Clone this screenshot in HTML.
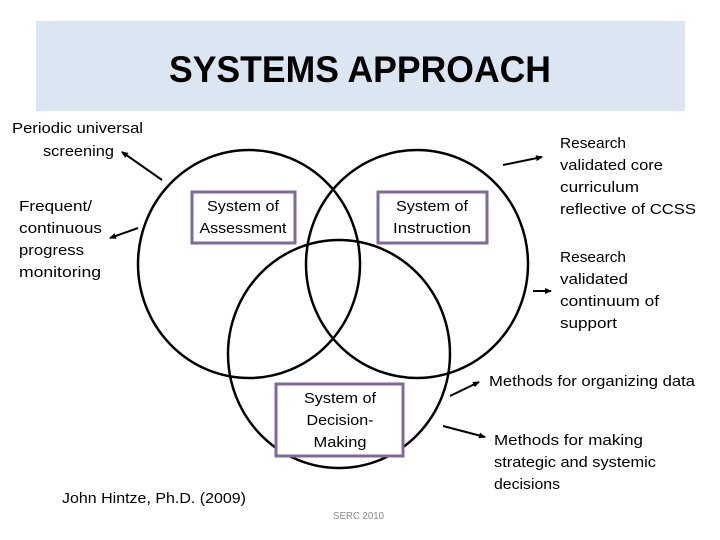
<!DOCTYPE html>
<html><head><meta charset="utf-8"><style>
html,body{margin:0;padding:0;background:#fff;}
svg{display:block;}
text{font-family:"Liberation Sans",sans-serif;font-size:15px;fill:#000;}
</style></head><body>
<svg width="720" height="540" viewBox="0 0 720 540" xmlns="http://www.w3.org/2000/svg">
<defs>
<marker id="ah" markerWidth="8" markerHeight="8" refX="6" refY="4" orient="auto" markerUnits="userSpaceOnUse">
<path d="M0,1 L7,4 L0,7 Z" fill="#000"/>
</marker>
</defs>
<rect x="36" y="21" width="649" height="90" fill="#dce6f2"/>
<text x="360" y="82" text-anchor="middle" style="font-size:37px;font-weight:bold" textLength="382" lengthAdjust="spacingAndGlyphs">SYSTEMS APPROACH</text>

<g fill="none" stroke="#000" stroke-width="2.5">
<ellipse cx="249" cy="264" rx="111" ry="114"/>
<ellipse cx="417" cy="264" rx="111" ry="114"/>
<ellipse cx="339" cy="354" rx="111" ry="114"/>
</g>

<g fill="#fff" stroke="#7e6b9a" stroke-width="3">
<rect x="192" y="192" width="103" height="51"/>
<rect x="378" y="192" width="109" height="51"/>
<rect x="276" y="384" width="127" height="72"/>
</g>

<g stroke="#000" stroke-width="2" marker-end="url(#ah)">
<line x1="162" y1="180" x2="122" y2="152"/>
<line x1="138" y1="228" x2="110" y2="238"/>
<line x1="503" y1="165" x2="542" y2="157"/>
<line x1="533" y1="291" x2="551" y2="291"/>
<line x1="450" y1="396" x2="479" y2="382"/>
<line x1="443" y1="426" x2="485" y2="437"/>
</g>

<text x="243" y="211" text-anchor="middle" textLength="72" lengthAdjust="spacingAndGlyphs">System of</text>
<text x="243" y="233" text-anchor="middle" textLength="87" lengthAdjust="spacingAndGlyphs">Assessment</text>
<text x="432" y="211" text-anchor="middle" textLength="72" lengthAdjust="spacingAndGlyphs">System of</text>
<text x="432" y="233" text-anchor="middle" textLength="78" lengthAdjust="spacingAndGlyphs">Instruction</text>
<text x="340" y="403" text-anchor="middle" textLength="72" lengthAdjust="spacingAndGlyphs">System of</text>
<text x="340" y="425" text-anchor="middle" textLength="67" lengthAdjust="spacingAndGlyphs">Decision-</text>
<text x="340" y="447" text-anchor="middle" textLength="53" lengthAdjust="spacingAndGlyphs">Making</text>

<text x="12" y="133" textLength="131" lengthAdjust="spacingAndGlyphs">Periodic universal</text>
<text x="43" y="156" textLength="71" lengthAdjust="spacingAndGlyphs">screening</text>
<text x="19" y="211" textLength="73" lengthAdjust="spacingAndGlyphs">Frequent/</text>
<text x="19" y="233" textLength="83" lengthAdjust="spacingAndGlyphs">continuous</text>
<text x="19" y="255" textLength="65" lengthAdjust="spacingAndGlyphs">progress</text>
<text x="19" y="277" textLength="82" lengthAdjust="spacingAndGlyphs">monitoring</text>

<text x="560" y="148" textLength="66" lengthAdjust="spacingAndGlyphs">Research</text>
<text x="560" y="170" textLength="103" lengthAdjust="spacingAndGlyphs">validated core</text>
<text x="560" y="192" textLength="79" lengthAdjust="spacingAndGlyphs">curriculum</text>
<text x="560" y="214" textLength="136" lengthAdjust="spacingAndGlyphs">reflective of CCSS</text>

<text x="560" y="262" textLength="66" lengthAdjust="spacingAndGlyphs">Research</text>
<text x="560" y="284" textLength="68" lengthAdjust="spacingAndGlyphs">validated</text>
<text x="560" y="306" textLength="99" lengthAdjust="spacingAndGlyphs">continuum of</text>
<text x="560" y="328" textLength="57" lengthAdjust="spacingAndGlyphs">support</text>

<text x="489" y="386" textLength="206" lengthAdjust="spacingAndGlyphs">Methods for organizing data</text>
<text x="494" y="445" textLength="149" lengthAdjust="spacingAndGlyphs">Methods for making</text>
<text x="494" y="467" textLength="162" lengthAdjust="spacingAndGlyphs">strategic and systemic</text>
<text x="494" y="489" textLength="66" lengthAdjust="spacingAndGlyphs">decisions</text>

<text x="62" y="503" textLength="184" lengthAdjust="spacingAndGlyphs">John Hintze, Ph.D. (2009)</text>
<text x="333" y="519" style="font-size:10px;fill:#888" textLength="51" lengthAdjust="spacingAndGlyphs">SERC 2010</text>
</svg>
</body></html>
